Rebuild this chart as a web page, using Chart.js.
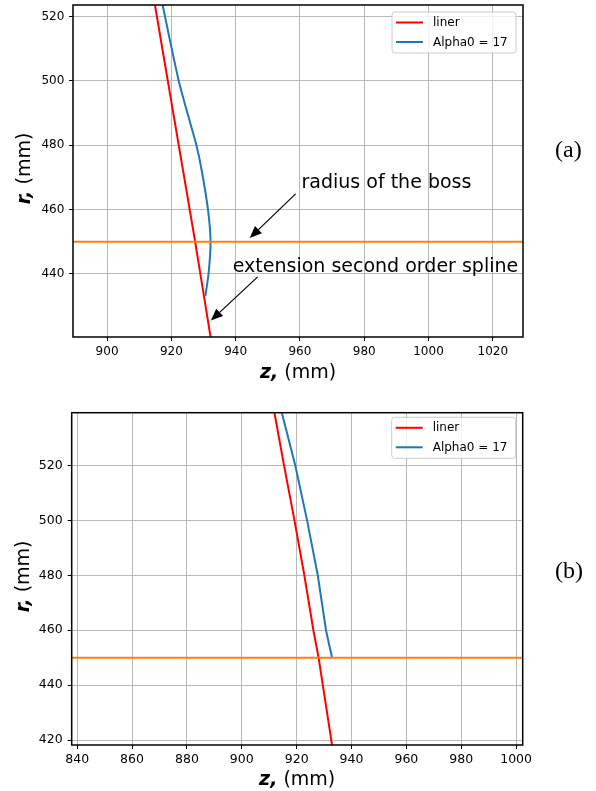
<!DOCTYPE html>
<html>
<head>
<meta charset="utf-8">
<script src="https://cdn.jsdelivr.net/npm/chart.js@4.4.1/dist/chart.umd.min.js"></script>
<style>
    html, body { margin: 0; padding: 0; background: #ffffff; }
    #page { position: relative; width: 596px; height: 791px; overflow: hidden; }
    canvas { position: absolute; left: 0; }
    #chart-a { top: 0; }
    #chart-b { top: 395px; }
    .tag { position: absolute; font-family: "Liberation Serif", serif; font-size: 24px; color: #000; line-height: 1; }
</style>
</head>
<body>
<div id="page">
    <canvas id="chart-a" width="596" height="395"></canvas>
    <canvas id="chart-b" width="596" height="396"></canvas>
    <div class="tag" style="left:555px; top:137px;">(a)</div>
    <div class="tag" style="left:555px; top:558px;">(b)</div>
</div>
<script>
"use strict";

// Two stacked plots of the liner contour r(z): (a) with the spline extension, (b) without.

const fontFamily = '"DejaVu Sans", sans-serif';
const seriesNames = ["liner", "Alpha0 = 17"];
const bossRadius = 450;

// --- plot (a) ---
const zTicksA = [900, 920, 940, 960, 980, 1000, 1020];
const rTicksA = [440, 460, 480, 500, 520];
const linerZA = [914.9, 918.9, 922.3, 927.4, 932.2];
const linerRA = [523.6, 500, 480, 450, 420.4];
const alphaZA = [917.3, 919.1, 922.3, 925.0, 927.8, 929.4, 931.4, 932.2, 931.6, 930.6];
const alphaRA = [523.6, 514.8, 500, 490, 480, 472.4, 460, 450, 440.3, 433.2];
const bossZA = [889.4, 1029.4];

// --- plot (b) ---
const zTicksB = [840, 860, 880, 900, 920, 940, 960, 980, 1000];
const rTicksB = [420, 440, 460, 480, 500, 520];
const linerZB = [911.9, 915.4, 919.2, 922.8, 926.1, 928.0, 932.9];
const linerRB = [539.2, 520, 500, 480, 460, 450, 418.2];
const alphaZB = [914.6, 919.5, 923.8, 927.7, 930.7, 932.9];
const alphaRB = [539.2, 520, 500, 480, 460, 450];
const bossZB = [838, 1002.4];

// Annotations of plot (a), placed in data units (z, r).
const notesA = [
    { text: "radius of the boss", at: [960.5, 466.6], from: [958.65, 464.9], to: [944.4, 451.2] },
    { text: "extension second order spline", at: [939.1, 440.7], from: [946.85, 439.1], to: [932.3, 425.5] }
];

function toPoints(zs, rs) {
    return zs.map((z, i) => ({ x: z, y: rs[i] }));
}

// Black frame round the plot area, like matplotlib spines.
const frame = {
    id: "frame",
    afterDatasetsDraw(chart) {
        const a = chart.chartArea;
        const ctx = chart.ctx;
        ctx.save();
        ctx.strokeStyle = "#000000";
        ctx.lineWidth = 1.5;
        ctx.strokeRect(a.left, a.top, a.right - a.left, a.bottom - a.top);
        ctx.restore();
    }
};

// Axis titles with a bold italic symbol and a plain unit.
const axisTitles = {
    id: "axisTitles",
    afterDraw(chart, args, opts) {
        const ctx = chart.ctx;
        const a = chart.chartArea;
        const drawTitle = (symbol, cx, cy, rotate) => {
            ctx.save();
            ctx.translate(cx, cy);
            if (rotate) {
                ctx.rotate(-Math.PI / 2);
            }
            const boldFont = "bold italic " + opts.size + "px " + fontFamily;
            const plainFont = opts.size + "px " + fontFamily;
            ctx.font = boldFont;
            const w1 = ctx.measureText(symbol + ",").width;
            ctx.font = plainFont;
            const w2 = ctx.measureText(" (mm)").width;
            let x = -(w1 + w2) / 2;
            ctx.fillStyle = "#000000";
            ctx.textBaseline = "middle";
            ctx.textAlign = "left";
            ctx.font = boldFont;
            ctx.fillText(symbol + ",", x, 0);
            ctx.font = plainFont;
            ctx.fillText(" (mm)", x + w1, 0);
            ctx.restore();
        };
        drawTitle("z", (a.left + a.right) / 2, a.bottom + opts.xOffset, false);
        drawTitle("r", opts.yX, (a.top + a.bottom) / 2 + opts.yShift, true);
    }
};

// Legend box in the upper right corner of the plot area.
const boxLegend = {
    id: "boxLegend",
    afterDraw(chart, args, opts) {
        const ctx = chart.ctx;
        const a = chart.chartArea;
        const x = a.right - opts.right - opts.width;
        const y = a.top + opts.top;
        ctx.save();
        ctx.beginPath();
        ctx.roundRect(x, y, opts.width, opts.height, 3);
        ctx.fillStyle = "rgba(255, 255, 255, 0.8)";
        ctx.fill();
        ctx.strokeStyle = "#cccccc";
        ctx.lineWidth = 1;
        ctx.stroke();
        ctx.font = opts.size + "px " + fontFamily;
        ctx.textBaseline = "middle";
        ctx.fillStyle = "#000000";
        const entries = chart.data.datasets.filter((d) => d.label);
        entries.forEach((d, i) => {
            const rowY = y + opts.firstRow + i * opts.rowGap;
            ctx.strokeStyle = d.borderColor;
            ctx.lineWidth = 2;
            ctx.beginPath();
            ctx.moveTo(x + 4, rowY);
            ctx.lineTo(x + 31, rowY);
            ctx.stroke();
            ctx.fillText(d.label, x + 41, rowY + 0.5);
        });
        ctx.restore();
    }
};

// Text with an arrow pointing to a spot on the plot.
const arrowNotes = {
    id: "arrowNotes",
    afterDatasetsDraw(chart, args, opts) {
        if (!opts.notes) {
            return;
        }
        const ctx = chart.ctx;
        const xs = chart.scales.x;
        const ys = chart.scales.y;
        ctx.save();
        opts.notes.forEach((n) => {
            const tx = xs.getPixelForValue(n.at[0]);
            const ty = ys.getPixelForValue(n.at[1]);
            ctx.font = "19px " + fontFamily;
            ctx.fillStyle = "#000000";
            ctx.textBaseline = "alphabetic";
            ctx.fillText(n.text, tx, ty);

            const x0 = xs.getPixelForValue(n.from[0]);
            const y0 = ys.getPixelForValue(n.from[1]);
            const x1 = xs.getPixelForValue(n.to[0]);
            const y1 = ys.getPixelForValue(n.to[1]);
            const ang = Math.atan2(y1 - y0, x1 - x0);
            const len = 12;
            const half = 5;
            const bx = x1 - len * Math.cos(ang);
            const by = y1 - len * Math.sin(ang);
            ctx.strokeStyle = "#000000";
            ctx.lineWidth = 1.2;
            ctx.beginPath();
            ctx.moveTo(x0, y0);
            ctx.lineTo(bx, by);
            ctx.stroke();
            ctx.beginPath();
            ctx.moveTo(x1, y1);
            ctx.lineTo(bx + half * Math.sin(ang), by - half * Math.cos(ang));
            ctx.lineTo(bx - half * Math.sin(ang), by + half * Math.cos(ang));
            ctx.closePath();
            ctx.fill();
        });
        ctx.restore();
    }
};

function makeDatasets(linerZ, linerR, alphaZ, alphaR, bossZ) {
    return [
        {
            label: seriesNames[0],
            data: toPoints(linerZ, linerR),
            borderColor: "#ff0000",
            order: 2
        },
        {
            label: seriesNames[1],
            data: toPoints(alphaZ, alphaR),
            borderColor: "#1f77b4",
            order: 1
        },
        {
            label: "",
            data: toPoints(bossZ, bossZ.map(() => bossRadius)),
            borderColor: "#ff7f0e",
            order: 0
        }
    ];
}

function makeAxis(min, max, tickValues, fontSize, pad, fit) {
    return {
        type: "linear",
        min: min,
        max: max,
        afterBuildTicks(scale) {
            scale.ticks = tickValues.map((v) => ({ value: v }));
        },
        afterFit: fit,
        ticks: {
            color: "#000000",
            padding: pad,
            font: { family: fontFamily, size: fontSize },
            callback: (v) => String(v)
        },
        grid: {
            color: "#b8b8b8",
            lineWidth: 1,
            drawTicks: true,
            tickLength: 4,
            tickColor: "#000000",
            tickWidth: 1
        },
        border: { display: false }
    };
}

function makeChart(canvasId, datasets, geo, notes) {
    return new Chart(document.getElementById(canvasId), {
        type: "scatter",
        data: { datasets: datasets },
        options: {
            responsive: false,
            animation: false,
            devicePixelRatio: 1,
            showLine: true,
            layout: {
                autoPadding: false,
                padding: { top: geo.top, right: geo.right, left: 0, bottom: 0 }
            },
            elements: {
                point: { radius: 0, hoverRadius: 0 },
                line: { borderWidth: 2, tension: geo.tension, fill: false }
            },
            scales: {
                x: makeAxis(geo.xMin, geo.xMax, geo.xTicks, geo.font, 3.5, (s) => {
                    s.height = geo.xHeight;
                    s.paddingLeft = 0;
                    s.paddingRight = 0;
                }),
                y: makeAxis(geo.yMin, geo.yMax, geo.yTicks, geo.font, geo.yPad, (s) => {
                    s.width = geo.yWidth;
                    s.paddingTop = 0;
                    s.paddingBottom = 0;
                })
            },
            plugins: {
                legend: { display: false },
                tooltip: { enabled: false },
                axisTitles: { size: 19, xOffset: geo.titleOffset, yX: geo.titleX, yShift: -2.5 },
                boxLegend: { right: 7, top: geo.legendTop, width: 124, height: 41, size: 12, firstRow: 10.5, rowGap: 19.5 },
                arrowNotes: { notes: notes }
            }
        },
        plugins: [frame, axisTitles, boxLegend, arrowNotes]
    });
}

makeChart("chart-a", makeDatasets(linerZA, linerRA, alphaZA, alphaRA, bossZA), {
    top: 5, right: 73, yWidth: 73, xHeight: 58,
    xMin: 889.4, xMax: 1029.4, xTicks: zTicksA,
    yMin: 420.4, yMax: 523.6, yTicks: rTicksA,
    font: 12, yPad: 4.7, tension: 0.2,
    titleOffset: 36, titleX: 25, legendTop: 7
}, notesA);

makeChart("chart-b", makeDatasets(linerZB, linerRB, alphaZB, alphaRB, bossZB), {
    top: 17.7, right: 73.3, yWidth: 71.7, xHeight: 46,
    xMin: 838, xMax: 1002.4, xTicks: zTicksB,
    yMin: 418.2, yMax: 539.2, yTicks: rTicksB,
    font: 12.5, yPad: 5, tension: 0,
    titleOffset: 35, titleX: 24.5, legendTop: 4.6
}, null);
</script>
</body>
</html>
